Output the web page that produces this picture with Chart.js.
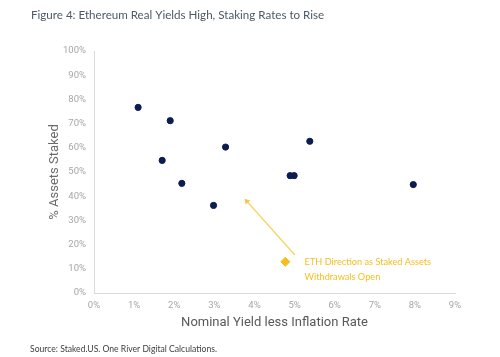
<!DOCTYPE html>
<html>
<head>
<meta charset="utf-8">
<script src="https://cdn.jsdelivr.net/npm/chart.js@4/dist/chart.umd.min.js"></script>
<style>
html,body{margin:0;padding:0;background:#fff;}
canvas{display:block;}
</style>
</head>
<body>
<canvas id="c" width="500" height="357"></canvas>
<script>
// ---- data ----
const titleText = "Figure 4: Ethereum Real Yields High, Staking Rates to Rise";
const sourceText = "Source: Staked.US. One River Digital Calculations.";
const xTitle = "Nominal Yield less Inflation Rate";
const yTitle = "% Assets Staked";
const realYield = [1.10, 1.90, 1.70, 2.19, 2.98, 3.28, 4.89, 4.99, 5.38, 7.96];
const pctStaked = [76.7, 71.2, 54.8, 45.3, 36.2, 60.3, 48.5, 48.5, 62.7, 44.8];
const arrowX = [5.01, 3.81];
const arrowY = [15.7, 37.9];
const markerX = [4.77];
const markerY = [12.9];
const annotationLines = ["ETH Direction as Staked Assets", "Withdrawals Open"];
const annotationPos = {x: 5.25, y: 12.9};

const gold = '#f5be1e';
const navy = '#0c1c4e';

const pts = realYield.map((x, i) => ({x, y: pctStaked[i]}));
const arrowPts = arrowX.map((x, i) => ({x, y: arrowY[i]}));
const markerPts = markerX.map((x, i) => ({x, y: markerY[i]}));

const textPlugin = {
  id: 'texts',
  afterDraw(chart) {
    const ctx = chart.ctx;
    ctx.save();
    ctx.textBaseline = 'middle';
    ctx.textAlign = 'left';
    ctx.fillStyle = '#4c5966';
    ctx.font = '11.6px Lato';
    ctx.fillText(titleText, 31, 15);
    ctx.fillStyle = '#404040';
    ctx.font = '8.6px Lato';
    ctx.fillText(sourceText, 30, 349);
    const xs = chart.scales.x, ys = chart.scales.y;
    const ax = xs.getPixelForValue(annotationPos.x);
    const ay = ys.getPixelForValue(annotationPos.y);
    ctx.fillStyle = gold;
    ctx.font = '9.2px Lato';
    annotationLines.forEach((t, i) => ctx.fillText(t, ax, ay + i * 15));
    ctx.restore();
  }
};

new Chart(document.getElementById('c'), {
  type: 'scatter',
  data: {
    datasets: [
      {
        data: pts,
        backgroundColor: navy,
        borderColor: navy,
        pointRadius: 3.1,
        pointHoverRadius: 3.1
      },
      {
        data: arrowPts,
        showLine: true,
        borderColor: '#f7d366',
        borderWidth: 1.3,
        backgroundColor: '#f5c842',
        pointStyle: 'triangle',
        pointRadius: [0, 3.5],
        pointBorderWidth: 0,
        rotation: -41.6
      },
      {
        data: markerPts,
        backgroundColor: gold,
        borderColor: gold,
        pointStyle: 'rectRot',
        pointRadius: 4.5
      }
    ]
  },
  options: {
    responsive: false,
    animation: false,
    devicePixelRatio: 1,
    layout: {padding: {top: 51, right: 45, left: 0, bottom: 0}},
    plugins: {legend: {display: false}, tooltip: {enabled: false}},
    scales: {
      x: {
        type: 'linear',
        min: 0, max: 9,
        afterFit: s => { s.height = 64; },
        grid: {display: false, drawTicks: false},
        border: {display: true, color: '#d9d9d9', width: 1},
        ticks: {
          stepSize: 1,
          padding: 7,
          color: '#a6a6a6',
          font: {family: 'Roboto', size: 9.5},
          callback: v => v + '%'
        },
        title: {
          display: true,
          text: xTitle,
          color: '#595959',
          font: {family: 'Roboto', size: 13},
          padding: {top: 0, bottom: 26}
        }
      },
      y: {
        type: 'linear',
        min: 0, max: 100,
        afterFit: s => { s.width = 94; },
        grid: {display: false, drawTicks: false},
        border: {display: true, color: '#d9d9d9', width: 1},
        ticks: {
          stepSize: 10,
          padding: 8,
          color: '#a6a6a6',
          font: {family: 'Roboto', size: 9.5},
          callback: v => v + '%'
        },
        title: {
          display: true,
          text: yTitle,
          color: '#6a6a6a',
          font: {family: 'Roboto', size: 13},
          padding: {top: 47, bottom: 0}
        }
      }
    }
  },
  plugins: [textPlugin]
});
</script>
</body>
</html>
